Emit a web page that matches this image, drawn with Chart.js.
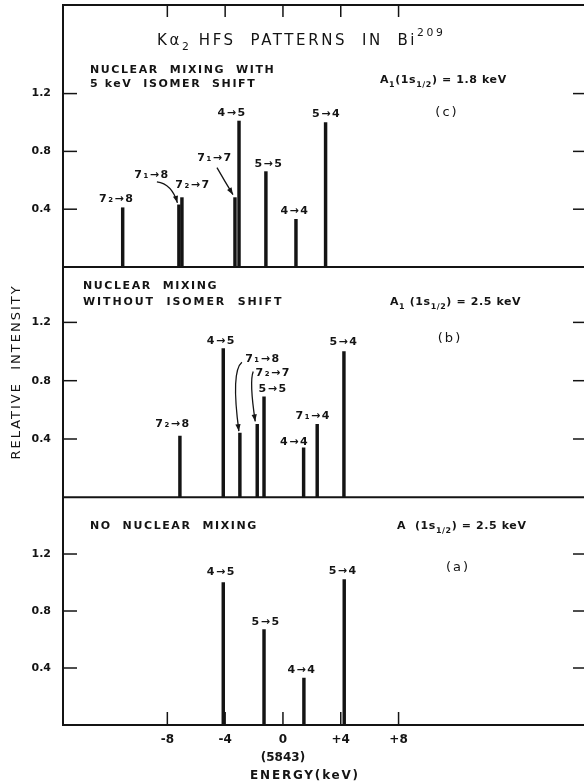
<!DOCTYPE html>
<html>
<head>
<meta charset="utf-8">
<script src="https://cdn.jsdelivr.net/npm/chart.js@4"></script>
<style>
  html, body { margin: 0; padding: 0; background: #fff; overflow: hidden; }
  #wrap { position: relative; width: 590px; height: 784px; }
</style>
</head>
<body>
<div id="wrap"><canvas id="hfsChart" width="590" height="784"></canvas></div>
<script>
// Ka2 HFS patterns in Bi-209 : three stacked panels sharing one energy axis

// --- shared axes ---
const energyTicks = [-8, -4, 0, 4, 8];
const intensityTicks = [0.4, 0.8, 1.2];

// --- (c) nuclear mixing with 5 keV isomer shift ---
const cTransitions = ['7₂→8', '7₁→8', '7₂→7', '7₁→7', '4→5', '5→5', '4→4', '5→4'];
const cEnergy = [-11.09, -7.20, -6.99, -3.32, -3.04, -1.18, 0.90, 2.95];
const cIntensity = [0.41, 0.43, 0.48, 0.48, 1.01, 0.66, 0.33, 1.00];

// --- (b) nuclear mixing without isomer shift ---
const bTransitions = ['7₂→8', '4→5', '7₁→8', '7₂→7', '5→5', '4→4', '7₁→4', '5→4'];
const bEnergy = [-7.13, -4.13, -2.98, -1.78, -1.31, 1.43, 2.37, 4.22];
const bIntensity = [0.42, 1.02, 0.44, 0.50, 0.69, 0.34, 0.50, 1.00];

// --- (a) no nuclear mixing ---
const aTransitions = ['4→5', '5→5', '4→4', '5→4'];
const aEnergy = [-4.13, -1.31, 1.45, 4.24];
const aIntensity = [1.00, 0.67, 0.33, 1.02];

// layout only (pixel nudges for labels, arrows and panel notes)
const INK = '#141414';
const FONT = '"DejaVu Sans", sans-serif';

const panels = [
  {
    id: 'yA', max: 1.598, weight: 227.7,
    labels: aTransitions, energy: aEnergy, intensity: aIntensity,
    nudge: [[-2, -10], [2, -7], [-2, -8], [-1, -9]],
    arrows: {},
    notes: [
      { parts: [['NO  NUCLEAR  MIXING', 0]], x: 27, y: 29, size: 11, weight: 'bold', sp: 1.6 },
      { parts: [['A  (1s', 0], ['1/2', -1], [') = 2.5 keV', 0]], x: 334, y: 29, size: 11, weight: 'bold', sp: 0.6 },
      { parts: [['(a)', 0]], x: 395, y: 70, size: 13, weight: 'normal', sp: 2, center: true }
    ]
  },
  {
    id: 'yB', max: 1.58, weight: 230.3,
    labels: bTransitions, energy: bEnergy, intensity: bIntensity,
    nudge: [[-7, -12], [-2, -7], [23, -74], [16, -51], [9, -8], [-9, -6], [-4, -8], [0, -9]],
    arrows: {
      2: [[2, -71], [-9, -62], [-1, -2]],
      3: [[-4, -53], [-8, -43], [-2, -3]]
    },
    notes: [
      { parts: [['NUCLEAR  MIXING', 0]], x: 20, y: 19, size: 11, weight: 'bold', sp: 1.6 },
      { parts: [['WITHOUT  ISOMER  SHIFT', 0]], x: 20, y: 35, size: 11, weight: 'bold', sp: 1.9 },
      { parts: [['A', 0], ['1', -1], [' (1s', 0], ['1/2', -1], [') = 2.5 keV', 0]], x: 327, y: 35, size: 11, weight: 'bold', sp: 0.6 },
      { parts: [['(b)', 0]], x: 387, y: 72, size: 13, weight: 'normal', sp: 2, center: true }
    ]
  },
  {
    id: 'yC', max: 1.813, weight: 262,
    labels: cTransitions, energy: cEnergy, intensity: cIntensity,
    nudge: [[-6, -9], [-27, -30], [11, -12], [-20, -39], [-7, -8], [3, -7], [-1, -8], [1, -8]],
    arrows: {
      1: [[-22, -23], [-7, -21], [-1.5, -2]],
      3: [[-18, -30], [-10, -16], [-2, -3]]
    },
    notes: [
      { parts: [['Kα', 0], ['2', -1], [' HFS  PATTERNS  IN  Bi', 0], ['209', 1]], x: 94, y: 36, size: 15, weight: 'normal', sp: 2.6 },
      { parts: [['NUCLEAR  MIXING  WITH', 0]], x: 27, y: 65, size: 11, weight: 'bold', sp: 1.6 },
      { parts: [['5 keV  ISOMER  SHIFT', 0]], x: 27, y: 79, size: 11, weight: 'bold', sp: 1.6 },
      { parts: [['A', 0], ['1', -1], ['(1s', 0], ['1/2', -1], [') = 1.8 keV', 0]], x: 317, y: 75, size: 11, weight: 'bold', sp: 0.6 },
      { parts: [['(c)', 0]], x: 384, y: 108, size: 13, weight: 'normal', sp: 2, center: true }
    ]
  }
];

// text with sub/superscripts; shift -1 = subscript, 1 = superscript
function drawRich(ctx, note, x, y) {
  const sizeOf = sh => sh ? note.size * 0.72 : note.size;
  const fontOf = sh => `${note.weight} ${sizeOf(sh)}px ${FONT}`;
  ctx.letterSpacing = (note.sp || 0) + 'px';
  let w = 0;
  note.parts.forEach(([t, sh]) => { ctx.font = fontOf(sh); w += ctx.measureText(t).width; });
  let cx = note.center ? x - w / 2 : x;
  ctx.textAlign = 'left';
  ctx.textBaseline = 'middle';
  note.parts.forEach(([t, sh]) => {
    ctx.font = fontOf(sh);
    const dy = sh < 0 ? note.size * 0.42 : (sh > 0 ? -note.size * 0.5 : 0);
    ctx.fillText(t, cx, y + dy);
    cx += ctx.measureText(t).width;
  });
  ctx.letterSpacing = '0px';
}

function drawArrow(ctx, p0, pc, p1) {
  ctx.beginPath();
  ctx.moveTo(p0[0], p0[1]);
  ctx.quadraticCurveTo(pc[0], pc[1], p1[0], p1[1]);
  ctx.stroke();
  const ang = Math.atan2(p1[1] - pc[1], p1[0] - pc[0]);
  const L = 7, W = 2.6;
  ctx.beginPath();
  ctx.moveTo(p1[0], p1[1]);
  ctx.lineTo(p1[0] - L * Math.cos(ang) + W * Math.sin(ang), p1[1] - L * Math.sin(ang) - W * Math.cos(ang));
  ctx.lineTo(p1[0] - L * Math.cos(ang) - W * Math.sin(ang), p1[1] - L * Math.sin(ang) + W * Math.cos(ang));
  ctx.closePath();
  ctx.fill();
}

// frame, inward ticks, transition labels and panel notes
const framePlugin = {
  id: 'hfsFrame',
  afterDatasetsDraw(chart) {
    const { ctx, chartArea: ca, scales } = chart;
    const x = scales.x;
    ctx.save();
    ctx.strokeStyle = INK;
    ctx.fillStyle = INK;

    // outer frame and panel separators
    ctx.lineWidth = 2;
    ctx.strokeRect(ca.left, ca.top, ca.right - ca.left, ca.bottom - ca.top);
    ['yB', 'yC'].forEach(id => {
      const b = scales[id].bottom;
      ctx.beginPath(); ctx.moveTo(ca.left, b); ctx.lineTo(ca.right, b); ctx.stroke();
    });

    // x ticks: down from the top, up from the bottom
    ctx.lineWidth = 1.5;
    energyTicks.forEach(v => {
      const px = x.getPixelForValue(v);
      ctx.beginPath(); ctx.moveTo(px, ca.top); ctx.lineTo(px, ca.top + 12); ctx.stroke();
      ctx.beginPath(); ctx.moveTo(px, ca.bottom); ctx.lineTo(px, ca.bottom - 13); ctx.stroke();
    });

    panels.forEach(p => {
      const y = scales[p.id];
      // y ticks on both sides
      ctx.lineWidth = 1.5;
      intensityTicks.forEach(v => {
        const py = y.getPixelForValue(v);
        ctx.beginPath(); ctx.moveTo(ca.left, py); ctx.lineTo(ca.left + 14, py); ctx.stroke();
        ctx.beginPath(); ctx.moveTo(ca.right, py); ctx.lineTo(ca.right - 13, py); ctx.stroke();
      });

      // transition labels
      p.labels.forEach((lab, i) => {
        const px = x.getPixelForValue(p.energy[i]);
        const py = y.getPixelForValue(p.intensity[i]);
        const [dx, dy] = p.nudge[i];
        drawRich(ctx, { parts: [[lab, 0]], size: 11, weight: 'bold', sp: 1.5, center: true }, px + dx, py + dy);
        const ar = p.arrows[i];
        if (ar) {
          ctx.lineWidth = 1.3;
          drawArrow(ctx, [px + ar[0][0], py + ar[0][1]], [px + ar[1][0], py + ar[1][1]], [px + ar[2][0], py + ar[2][1]]);
        }
      });

      // panel notes
      p.notes.forEach(n => drawRich(ctx, n, ca.left + n.x, y.top + n.y));
    });

    // energy axis title
    drawRich(ctx, { parts: [['ENERGY(keV)', 0]], size: 12, weight: 'bold', sp: 1.8, center: true }, 305, 776);

    // shared y title
    ctx.translate(17, 372);
    ctx.rotate(-Math.PI / 2);
    drawRich(ctx, { parts: [['RELATIVE  INTENSITY', 0]], size: 13, weight: 'normal', sp: 2, center: true }, 0, 0);
    ctx.restore();
  }
};

function yAxis(p) {
  return {
    type: 'linear',
    position: 'left',
    stack: 'panels',
    stackWeight: p.weight,
    min: 0,
    max: p.max,
    offset: false,
    grid: { display: false, drawTicks: false },
    border: { display: false },
    afterBuildTicks: s => { s.ticks = intensityTicks.map(v => ({ value: v })); },
    afterFit: s => { s.width = 63; s.paddingTop = 0; s.paddingBottom = 0; },
    ticks: {
      color: INK,
      padding: 12,
      font: { family: FONT, size: 11, weight: 'bold' },
      callback: v => v.toFixed(1)
    }
  };
}

const scales = {
  x: {
    type: 'linear',
    position: 'bottom',
    min: -15.22,
    max: 20.97,
    offset: false,
    grid: { display: false, drawTicks: false },
    border: { display: false },
    afterBuildTicks: s => { s.ticks = energyTicks.map(v => ({ value: v })); },
    afterFit: s => { s.height = 59; s.paddingLeft = 0; s.paddingRight = 0; },
    ticks: {
      color: INK,
      padding: 6,
      autoSkip: false,
      maxRotation: 0,
      font: { family: FONT, size: 12, weight: 'bold', lineHeight: 1.5 },
      callback: v => v === 0 ? ['0', '(5843)'] : (v > 0 ? '+' + v : '-' + Math.abs(v))
    }
  }
};
panels.forEach(p => { scales[p.id] = yAxis(p); });

new Chart(document.getElementById('hfsChart').getContext('2d'), {
  type: 'bar',
  data: {
    datasets: panels.map(p => ({
      label: p.id,
      yAxisID: p.id,
      data: p.energy.map((e, i) => ({ x: e, y: p.intensity[i] })),
      backgroundColor: INK,
      borderWidth: 0,
      barThickness: 2.8,
      grouped: false
    }))
  },
  options: {
    responsive: false,
    animation: false,
    devicePixelRatio: 1,
    layout: { padding: { top: 5, right: 4, left: 0, bottom: 0 } },
    plugins: { legend: { display: false }, tooltip: { enabled: false } },
    scales
  },
  plugins: [framePlugin]
});
</script>
</body>
</html>
